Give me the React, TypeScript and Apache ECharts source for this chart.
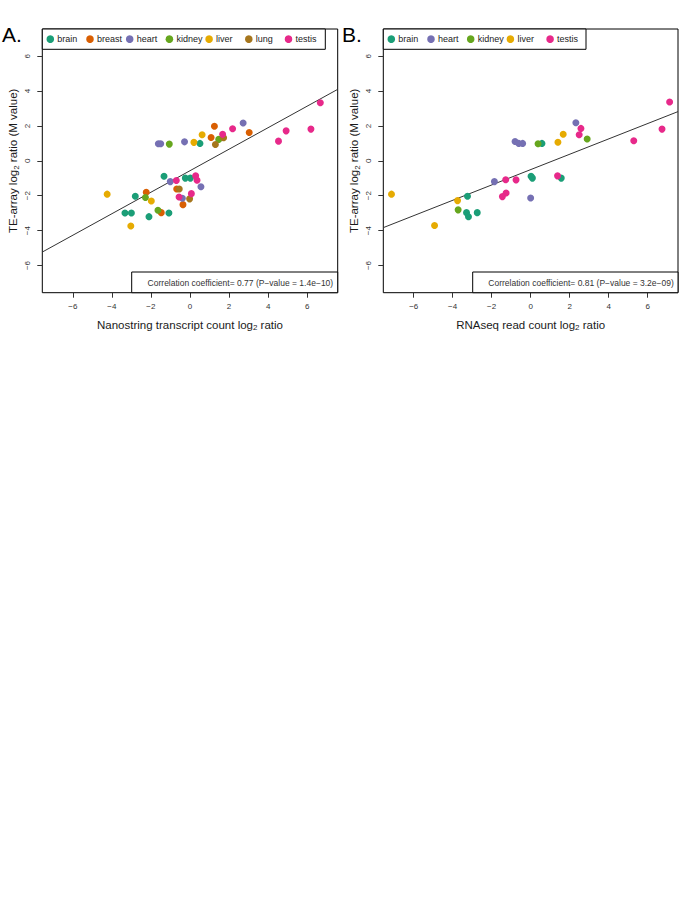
import React, { useEffect, useRef } from "react";
import * as echarts from "echarts";

// ---------- data ----------
const TISSUES_A = ["brain", "breast", "heart", "kidney", "liver", "lung", "testis"];
const TISSUES_B = ["brain", "heart", "kidney", "liver", "testis"];
const TISSUE_COLORS: Record<string, string> = {
  brain: "#1B9E77",
  breast: "#D95F02",
  heart: "#7570B3",
  kidney: "#66A61E",
  liver: "#E6AB02",
  lung: "#A6761D",
  testis: "#E7298A",
};

const brainA = [[0.51, 1.0], [-1.33, -0.88], [-0.24, -0.99], [0.02, -0.99], [-2.8, -2.03], [-3.33, -2.99], [-3.0, -2.99], [-2.1, -3.2], [-1.08, -2.99]];
const breastA = [[1.08, 1.34], [1.25, 1.98], [3.03, 1.63], [-0.68, -1.61], [-2.24, -1.8], [-1.47, -2.97], [-0.36, -2.51]];
const heartA = [[-1.62, 0.98], [-1.5, 0.98], [-0.28, 1.09], [2.72, 2.17], [-1.01, -1.19], [0.56, -1.49], [-0.39, -2.14]];
const kidneyA = [[-1.06, 0.96], [1.47, 1.23], [-2.28, -2.1], [-1.64, -2.83]];
const liverA = [[0.2, 1.06], [0.62, 1.5], [-4.24, -1.91], [-1.98, -2.3], [-3.03, -3.74]];
const lungA = [[1.3, 0.94], [1.72, 1.32], [-0.55, -1.61], [-0.02, -2.18]];
const testisA = [[1.67, 1.52], [2.18, 1.84], [4.53, 1.13], [4.92, 1.72], [6.19, 1.82], [6.67, 3.33], [-0.7, -1.13], [0.29, -0.86], [0.36, -1.11], [-0.56, -2.07], [0.07, -1.88]];

const brainB = [[0.58, 1.0], [-3.24, -2.03], [-3.29, -2.97], [-3.19, -3.2], [-2.74, -2.97], [0.02, -0.88], [0.09, -0.99], [1.57, -0.99]];
const heartB = [[-0.8, 1.11], [-0.61, 1.0], [-0.41, 1.0], [2.32, 2.18], [-1.86, -1.19], [0.0, -2.13]];
const kidneyB = [[0.38, 0.98], [2.9, 1.25], [-3.72, -2.81]];
const liverB = [[1.4, 1.07], [1.67, 1.53], [-7.14, -1.91], [-3.75, -2.28], [-4.93, -3.71]];
const testisB = [[2.58, 1.86], [2.49, 1.5], [5.29, 1.15], [6.74, 1.82], [7.13, 3.37], [-1.28, -1.08], [-0.75, -1.09], [1.38, -0.86], [-1.26, -1.84], [-1.45, -2.05]];

const SERIES_A: Record<string, number[][]> = { brain: brainA, breast: breastA, heart: heartA, kidney: kidneyA, liver: liverA, lung: lungA, testis: testisA };
const SERIES_B: Record<string, number[][]> = { brain: brainB, heart: heartB, kidney: kidneyB, liver: liverB, testis: testisB };

// fitted lines (slope, intercept)
const FIT_A = { slope: 0.617, intercept: -0.565 };
const FIT_B = { slope: 0.44, intercept: -0.503 };

const AXIS_MIN = -7.56;
const AXIS_MAX = 7.56;
const TICKS = [-6, -4, -2, 0, 2, 4, 6];

const CORR_A = "Correlation coefficient= 0.77 (P\u2212value = 1.4e\u221210)";
const CORR_B = "Correlation coefficient= 0.81 (P\u2212value = 3.2e\u221209)";
const XNAME_A = "Nanostring transcript count log{s|2} ratio";
const XNAME_B = "RNAseq read count log{s|2} ratio";
const YNAME = "TE-array log{s|2} ratio (M value)";

const FONT = "'Liberation Sans', Arial, Helvetica, sans-serif";

function fmt(v: number) {
  return String(v).replace("-", "\u2212");
}

function makeAxis(kind: "x" | "y", gridIndex: number, name: string) {
  return {
    type: "value",
    gridIndex,
    min: AXIS_MIN,
    max: AXIS_MAX,
    name,
    nameLocation: "middle",
    nameGap: kind === "x" ? 25 : 22,
    nameTextStyle: {
      fontFamily: FONT,
      fontSize: 11.5,
      color: "#1a1a1a",
      lineHeight: 14,
      rich: { s: { fontFamily: FONT, fontSize: 8, verticalAlign: "bottom", lineHeight: 14, color: "#1a1a1a" } },
    },
    axisLine: { show: false, onZero: false },
    splitLine: { show: false },
    axisTick: { show: true, length: 5, customValues: TICKS, lineStyle: { color: "#333", width: 1 } },
    axisLabel: {
      show: true,
      customValues: TICKS,
      formatter: (v: number) => fmt(v),
      fontFamily: FONT,
      fontSize: 8,
      color: "#333",
      margin: kind === "x" ? 10 : 11,
      rotate: kind === "y" ? 90 : 0,
    },
  };
}

function fitLine(fit: { slope: number; intercept: number }) {
  return [AXIS_MIN, AXIS_MAX].map((x) => [x, fit.intercept + fit.slope * x]);
}

// legend drawn as a boxed, evenly spaced row (like R's horizontal legend)
function legendGraphic(tissues: string[], left: number, boxWidth: number) {
  const top = 29;
  const h = 20.3;
  const step = 39.7;
  const cy = top + h / 2;
  const els: any[] = [
    { type: "rect", shape: { x: left, y: top, width: boxWidth, height: h }, style: { fill: "#fff", stroke: "#000", lineWidth: 1 }, z: 20 },
  ];
  tissues.forEach((t, i) => {
    const cx = left + 8 + step * i;
    els.push({ type: "circle", shape: { cx, cy, r: 3.8 }, style: { fill: TISSUE_COLORS[t] }, z: 21 });
    els.push({
      type: "text",
      x: cx + 7,
      y: cy,
      style: { text: t, fontFamily: FONT, fontSize: 9, fill: "#222", align: "left", verticalAlign: "middle" },
      z: 21,
    });
  });
  return els;
}

export default function App() {
  const ref = useRef<HTMLDivElement>(null);
  useEffect(() => {
    if (!ref.current) return;
    const chart = echarts.init(ref.current, undefined, { renderer: "svg" });

    const series: any[] = [];
    const addLine = (fit: any, idx: number) =>
      series.push({
        type: "line",
        xAxisIndex: idx,
        yAxisIndex: idx,
        data: fitLine(fit),
        showSymbol: false,
        symbol: "none",
        lineStyle: { color: "#333", width: 1 },
        silent: true,
        z: 1,
      });
    addLine(FIT_A, 0);
    addLine(FIT_B, 1);
    TISSUES_A.forEach((t) =>
      series.push({
        type: "scatter",
        name: t,
        xAxisIndex: 0,
        yAxisIndex: 0,
        data: SERIES_A[t],
        symbol: "circle",
        symbolSize: 7,
        itemStyle: { color: TISSUE_COLORS[t], opacity: 1 },
        z: 3,
      })
    );
    TISSUES_B.forEach((t) =>
      series.push({
        type: "scatter",
        name: t,
        xAxisIndex: 1,
        yAxisIndex: 1,
        data: SERIES_B[t],
        symbol: "circle",
        symbolSize: 7,
        itemStyle: { color: TISSUE_COLORS[t], opacity: 1 },
        z: 3,
      })
    );

    const corrBox = (x: number, w: number, text: string) => [
      {
        type: "rect",
        shape: { x, y: 272, width: w, height: 20.7 },
        style: { fill: "#fff", stroke: "#000", lineWidth: 1 },
        z: 20,
      },
      {
        type: "text",
        x: x + w / 2 + 5.7,
        y: 282.7,
        style: { text, fontFamily: FONT, fontSize: 8.5, fill: "#333", align: "center", verticalAlign: "middle" },
        z: 21,
      },
    ];

    chart.setOption({
      animation: false,
      backgroundColor: "#fff",
      grid: [
        { left: 42.3, top: 29, width: 295.4, height: 263.7, show: true, borderColor: "#000", borderWidth: 1, backgroundColor: "transparent" },
        { left: 383.3, top: 29, width: 294.7, height: 263.7, show: true, borderColor: "#000", borderWidth: 1, backgroundColor: "transparent" },
      ],
      xAxis: [makeAxis("x", 0, XNAME_A), makeAxis("x", 1, XNAME_B)],
      yAxis: [makeAxis("y", 0, YNAME), makeAxis("y", 1, YNAME)],
      graphic: [
        { type: "text", x: 2, y: 24, style: { text: "A.", fontFamily: FONT, fontSize: 21, fill: "#000" } },
        { type: "text", x: 342, y: 24, style: { text: "B.", fontFamily: FONT, fontSize: 21, fill: "#000" } },
        ...legendGraphic(TISSUES_A, 42.3, 283),
        ...legendGraphic(TISSUES_B, 383.3, 202.7),
        ...corrBox(131.7, 206, CORR_A),
        ...corrBox(472.7, 205.3, CORR_B),
      ],
      series,
    });
    return () => chart.dispose();
  }, []);
  return (
    <div
      ref={ref}
      style={{ position: "absolute", left: 0, top: 0, width: 685, height: 906, background: "#fff" }}
    />
  );
}
